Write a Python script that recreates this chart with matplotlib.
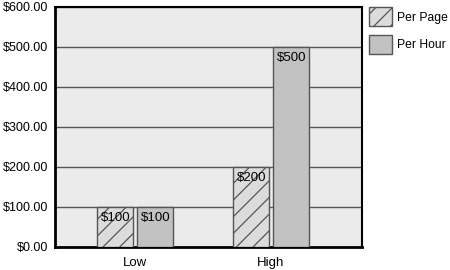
import matplotlib
matplotlib.use("Agg")
import matplotlib.pyplot as plt
import numpy as np

categories = ["Low", "High"]
per_page = [100, 200]
per_hour = [100, 500]
series_names = ["Per Page", "Per Hour"]
yticks = [0, 100, 200, 300, 400, 500, 600]

plt.rcParams['font.family'] = ['Liberation Sans', 'DejaVu Sans']
plt.rcParams['hatch.color'] = '#b8b8b8'
plt.rcParams['hatch.linewidth'] = 0.9

fig = plt.figure(figsize=(4.5, 2.7), dpi=100)
ax = fig.add_axes([55/450, 23/270, 307/450, 240/270])
ax.set_facecolor('#ebebeb')

x = np.arange(len(categories))
w = 0.265
off = 0.147
b1 = ax.bar(x - off, per_page, w, color='#dcdcdc', edgecolor='#555555', linewidth=1.0, hatch='//', zorder=3, label=series_names[0])
b2 = ax.bar(x + off, per_hour, w, color='#c2c2c2', edgecolor='#555555', linewidth=1.0, zorder=3, label=series_names[1])

for bars, vals in ((b1, per_page), (b2, per_hour)):
    for r, v in zip(bars, vals):
        ax.annotate(f"${v}", (r.get_x(), v), xytext=(2.5, -3.5), textcoords='offset points',
                    ha='left', va='top', fontsize=9.5, zorder=4)

ax.set_xlim(-0.588, 1.669)
ax.set_ylim(0, 600)
ax.set_yticks(yticks)
ax.set_yticklabels([f"${t:.2f}" for t in yticks], fontsize=9)
ax.set_xticks(x)
ax.set_xticklabels(categories, fontsize=9.5)
ax.tick_params(axis='y', length=0, pad=5)
ax.tick_params(axis='x', length=0, pad=7)
ax.yaxis.grid(True, color='#555555', linewidth=1.0, zorder=0)
ax.set_axisbelow(True)
for s in ax.spines.values():
    s.set_color('black')
ax.spines['left'].set_linewidth(2.0)
ax.spines['bottom'].set_linewidth(2.0)
ax.spines['top'].set_linewidth(1.5)
ax.spines['right'].set_linewidth(1.5)

leg = ax.legend(loc='upper left', bbox_to_anchor=(1.008, 1.02), frameon=False, fontsize=8.7,
                handlelength=1.9, handleheight=2.1, handletextpad=0.4, labelspacing=0.7, borderaxespad=0)

fig.savefig("out.png", dpi=100)
